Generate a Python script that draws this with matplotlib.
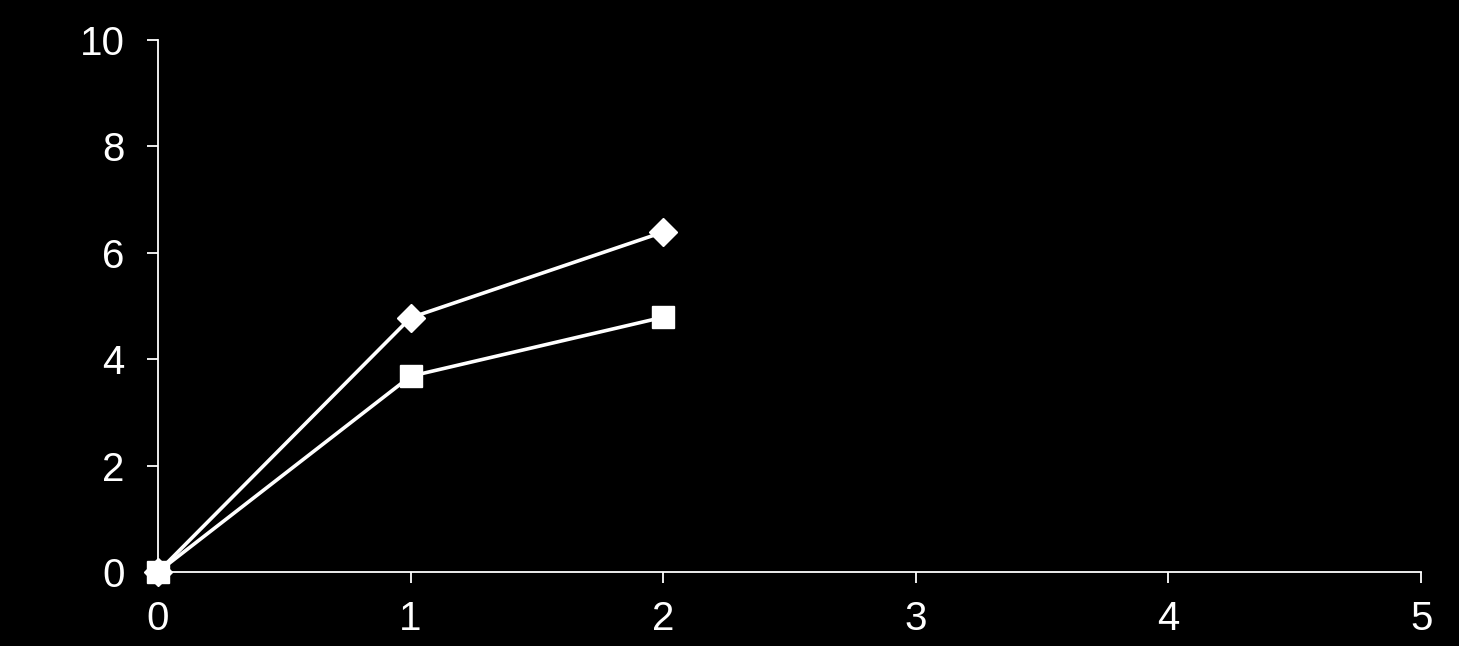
import matplotlib
matplotlib.use("Agg")
import matplotlib.pyplot as plt

# values
x_vals = [0, 1, 2]
diamond_vals = [0, 4.78, 6.39]
square_vals = [0, 3.68, 4.79]
x_ticks = [0, 1, 2, 3, 4, 5]
y_ticks = [0, 2, 4, 6, 8, 10]

plt.rcParams['font.family'] = ['Liberation Sans', 'DejaVu Sans']

fig = plt.figure(figsize=(14.59, 6.46), dpi=100, facecolor='black')
ax = fig.add_axes([0.1083, 0.1146, 0.974 - 0.1083, 0.938 - 0.1146])
ax.set_facecolor('black')

ax.plot(x_vals, diamond_vals, color='white', lw=2.6, marker='D',
        markersize=14, clip_on=False, zorder=3)
ax.plot(x_vals, square_vals, color='white', lw=2.6, marker='s',
        markersize=16.5, clip_on=False, zorder=3)

ax.set_xlim(0, 5)
ax.set_ylim(0, 10)
ax.set_xticks(x_ticks)
ax.set_yticks(y_ticks)

for side in ['top', 'right']:
    ax.spines[side].set_visible(False)
for side in ['left', 'bottom']:
    ax.spines[side].set_color('white')
    ax.spines[side].set_linewidth(1.3)

ax.tick_params(colors='white', labelsize=29, length=8, width=1.3, direction='out')
ax.tick_params(axis='y', pad=16)
ax.tick_params(axis='x', pad=12)

fig.savefig('out.png', dpi=100, facecolor='black')
